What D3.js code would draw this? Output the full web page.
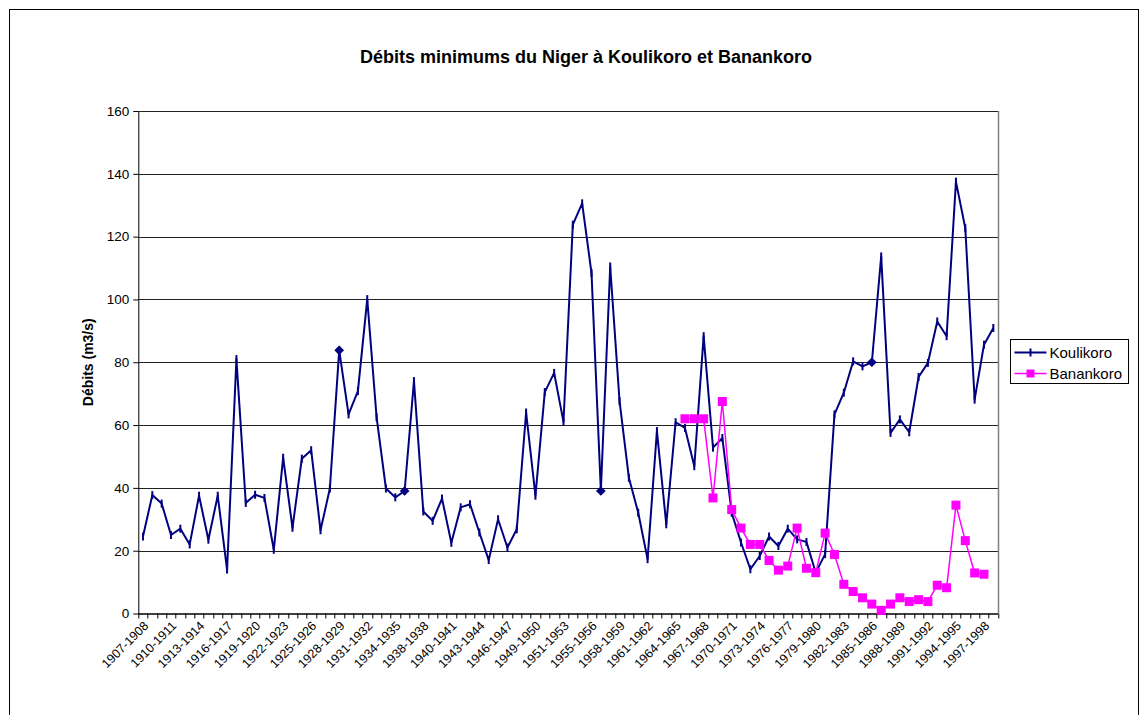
<!DOCTYPE html>
<html>
<head>
<meta charset="utf-8">
<script src="https://cdn.jsdelivr.net/npm/d3@7"></script>
<style>
    body { margin: 0; background: #fff; }
    svg { display: block; font-family: Arial, "Liberation Sans", sans-serif; }
</style>
</head>
<body>
<div id="chart"></div>
<script>
// Categories (hydrological years) as they appear in the source sheet
const years = [
    "1907-1908", "1908-1909", "1909-1910", "1910-1911", "1911-1912", "1912-1913",
    "1913-1914", "1914-1915", "1915-1916", "1916-1917", "1917-1918", "1918-1919",
    "1919-1920", "1920-1921", "1921-1922", "1922-1923", "1923-1924", "1924-1925",
    "1925-1926", "1926-1927", "1927-1928", "1928-1929", "1929-1930", "1930-1931",
    "1931-1932", "1932-1933", "1933-1934", "1934-1935", "1935-1936", "1936-1937",
    "1938-1938", "1938-1939", "1939-1940", "1940-1941", "1941-1942", "1942-1943",
    "1943-1944", "1944-1945", "1945-1946", "1946-1947", "1947-1948", "1948-1949",
    "1949-1950", "1950-1951", "1951-1952", "1951-1953", "1953-1954", "1954-1955",
    "1955-1956", "1956-1957", "1957-1958", "1958-1959", "1959-1960", "1960-1961",
    "1961-1962", "1962-1963", "1963-1964", "1964-1965", "1965-1966", "1966-1967",
    "1967-1968", "1968-1969", "1969-1970", "1970-1971", "1971-1972", "1972-1973",
    "1973-1974", "1974-1975", "1975-1976", "1976-1977", "1977-1978", "1978-1979",
    "1979-1980", "1980-1981", "1981-1982", "1982-1983", "1983-1984", "1984-1985",
    "1985-1986", "1986-1987", "1987-1988", "1988-1989", "1989-1990", "1990-1991",
    "1991-1992", "1992-1993", "1993-1994", "1994-1995", "1995-1996", "1996-1997",
    "1997-1998", "1998-1999"
];

// Koulikoro minimum discharge (m3/s), one value per year
const koulikoro = [
    24.5, 37.7, 35, 25, 27, 22, 37.5, 23.5, 37.5, 14,
    81, 35.2, 37.8, 36.8, 20.3, 49.6, 27.3, 49.3, 52, 26.5,
    39.8, 83.8, 63.4, 70.8, 100.1, 62.5, 39.8, 37, 39, 74,
    32.5, 29.5, 36.6, 22.5, 33.8, 34.8, 25.8, 17, 30, 21,
    26.8, 64, 37.5, 70.5, 76.6, 61, 123.8, 130.6, 108.4, 39,
    110.5, 67.6, 43.2, 32.1, 17.3, 58.1, 28.4, 60.9, 59.1, 46.9,
    88.3, 52.8, 55.9, 32.1, 22.6, 14.1, 18.3, 24.5, 21.5, 27,
    23.6, 22.8, 13, 18.9, 63.4, 70.3, 80.3, 78.7, 80, 113.7,
    57.5, 61.8, 57.7, 75.3, 79.8, 93, 88.3, 137.5, 122.7, 68.1,
    85.6, 90.9
];

// Points of Koulikoro drawn with a diamond marker in the original
const koulikoroDiamonds = ["1928-1929", "1935-1936", "1956-1957", "1985-1986"];

// Banankoro minimum discharge (m3/s), starts in 1965-1966
const banankoroStart = "1965-1966";
const banankoro = [
    62, 62, 62, 36.8, 67.5, 33.1, 27.2, 22, 22, 16.9,
    13.8, 15.1, 27.2, 14.4, 13, 25.6, 18.8, 9.3, 7, 5,
    3, 1, 3, 5, 3.8, 4.4, 3.8, 9, 8.2, 34.5,
    23.2, 12.9, 12.5
];

const yTicks = [0, 20, 40, 60, 80, 100, 120, 140, 160];

class NigerChart {
    constructor(_parentElement) {
        this.parentElement = _parentElement;
        this.initVis();
    }

    initVis() {
        let vis = this;

        vis.totalWidth = 1147;
        vis.totalHeight = 715;
        vis.margin = { top: 111, right: 149, bottom: 101.5, left: 138.3 };
        vis.width = vis.totalWidth - vis.margin.left - vis.margin.right;
        vis.height = vis.totalHeight - vis.margin.top - vis.margin.bottom;

        vis.root = d3.select("#" + vis.parentElement)
            .append("svg")
            .attr("width", vis.totalWidth)
            .attr("height", vis.totalHeight);

        // outer chart frame
        vis.root.append("rect")
            .attr("x", 9.5)
            .attr("y", 9.5)
            .attr("width", 1129)
            .attr("height", 730)
            .attr("fill", "#fff")
            .attr("stroke", "#000")
            .attr("stroke-width", 1);

        vis.root.append("text")
            .attr("x", 586)
            .attr("y", 63)
            .attr("text-anchor", "middle")
            .style("font-size", "18px")
            .style("font-weight", "bold")
            .text("Débits minimums du Niger à Koulikoro et Banankoro");

        vis.root.append("text")
            .attr("transform", `translate(93,${vis.margin.top + vis.height / 2}) rotate(-90)`)
            .attr("text-anchor", "middle")
            .style("font-size", "14px")
            .style("font-weight", "bold")
            .text("Débits (m3/s)");

        vis.svg = vis.root.append("g")
            .attr("transform", `translate(${vis.margin.left},${vis.margin.top})`);

        vis.x = d3.scaleBand()
            .domain(years)
            .range([0, vis.width])
            .padding(0);

        vis.y = d3.scaleLinear()
            .domain([0, 160])
            .range([vis.height, 0]);

        vis.cx = d => vis.x(d) + vis.x.bandwidth() / 2;

        // gridlines
        vis.svg.selectAll(".grid")
            .data(yTicks.filter(d => d > 0))
            .enter().append("line")
            .attr("class", "grid")
            .attr("x1", 0)
            .attr("x2", vis.width)
            .attr("y1", d => Math.round(vis.y(d)) + 0.5)
            .attr("y2", d => Math.round(vis.y(d)) + 0.5)
            .attr("stroke", "#222")
            .attr("stroke-width", 1);

        // right border of the plot area
        vis.svg.append("line")
            .attr("x1", vis.width + 0.5)
            .attr("x2", vis.width + 0.5)
            .attr("y1", 0)
            .attr("y2", vis.height)
            .attr("stroke", "#808080")
            .attr("stroke-width", 1.5);

        // y axis
        let yAxis = vis.svg.append("g")
            .call(d3.axisLeft(vis.y).tickValues(yTicks).tickSize(5).tickPadding(4).tickSizeOuter(0));
        yAxis.selectAll("text").style("font-size", "13.5px").attr("fill", "#000");
        yAxis.selectAll("line, path").attr("stroke", "#000");

        // x axis line and tick marks between categories
        vis.svg.append("line")
            .attr("x1", 0)
            .attr("x2", vis.width)
            .attr("y1", vis.height + 0.5)
            .attr("y2", vis.height + 0.5)
            .attr("stroke", "#000")
            .attr("stroke-width", 1.5);

        let tickPos = years.map(d => vis.x(d)).concat([vis.width]);
        vis.svg.selectAll(".xtick")
            .data(tickPos)
            .enter().append("line")
            .attr("class", "xtick")
            .attr("x1", d => Math.round(d) + 0.5)
            .attr("x2", d => Math.round(d) + 0.5)
            .attr("y1", vis.height)
            .attr("y2", vis.height + 5)
            .attr("stroke", "#000");

        vis.svg.selectAll(".xlabel")
            .data(years.filter((d, i) => i % 3 === 0))
            .enter().append("text")
            .attr("class", "xlabel")
            .attr("transform", d => `translate(${vis.cx(d) + 3},${vis.height + 10}) rotate(-45)`)
            .attr("text-anchor", "end")
            .attr("dy", "0.35em")
            .style("font-size", "12.5px")
            .text(d => d);

        vis.updateVis();
    }

    updateVis() {
        let vis = this;

        let kData = years.map((d, i) => ({ year: d, value: koulikoro[i] }));
        let b0 = years.indexOf(banankoroStart);
        let bData = banankoro.map((v, i) => ({ year: years[b0 + i], value: v }));

        let line = d3.line()
            .x(d => vis.cx(d.year))
            .y(d => vis.y(d.value));

        // Koulikoro
        vis.svg.append("path")
            .datum(kData)
            .attr("fill", "none")
            .attr("stroke", "#000080")
            .attr("stroke-width", 2)
            .attr("stroke-linejoin", "round")
            .attr("d", line);

        vis.svg.selectAll(".kmark")
            .data(kData)
            .enter().append("line")
            .attr("class", "kmark")
            .attr("x1", d => vis.cx(d.year))
            .attr("x2", d => vis.cx(d.year))
            .attr("y1", d => vis.y(d.value) - 4)
            .attr("y2", d => vis.y(d.value) + 4)
            .attr("stroke", "#000080")
            .attr("stroke-width", 2);

        vis.svg.selectAll(".kdiamond")
            .data(kData.filter(d => koulikoroDiamonds.includes(d.year)))
            .enter().append("path")
            .attr("class", "kdiamond")
            .attr("d", d3.symbol(d3.symbolDiamond2, 60))
            .attr("transform", d => `translate(${vis.cx(d.year)},${vis.y(d.value)})`)
            .attr("fill", "#000080");

        // Banankoro
        vis.svg.append("path")
            .datum(bData)
            .attr("fill", "none")
            .attr("stroke", "#FF00FF")
            .attr("stroke-width", 1.5)
            .attr("d", line);

        vis.svg.selectAll(".bmark")
            .data(bData)
            .enter().append("rect")
            .attr("class", "bmark")
            .attr("x", d => vis.cx(d.year) - 4.5)
            .attr("y", d => vis.y(d.value) - 4.5)
            .attr("width", 9)
            .attr("height", 9)
            .attr("fill", "#FF00FF");

        // legend
        let legend = vis.root.append("g").attr("transform", "translate(1010.5,339.5)");
        legend.append("rect")
            .attr("width", 118)
            .attr("height", 44)
            .attr("fill", "#fff")
            .attr("stroke", "#000");

        let items = [
            { name: "Koulikoro", color: "#000080", y: 13 },
            { name: "Banankoro", color: "#FF00FF", y: 34 }
        ];
        items.forEach(it => {
            legend.append("line")
                .attr("x1", 4).attr("x2", 36)
                .attr("y1", it.y).attr("y2", it.y)
                .attr("stroke", it.color)
                .attr("stroke-width", it.name === "Koulikoro" ? 2 : 1.5);
            if (it.name === "Koulikoro") {
                legend.append("line")
                    .attr("x1", 20).attr("x2", 20)
                    .attr("y1", it.y - 4).attr("y2", it.y + 4)
                    .attr("stroke", it.color)
                    .attr("stroke-width", 2);
            } else {
                legend.append("rect")
                    .attr("x", 16).attr("y", it.y - 4)
                    .attr("width", 8).attr("height", 8)
                    .attr("fill", it.color);
            }
            legend.append("text")
                .attr("x", 39)
                .attr("y", it.y)
                .attr("dy", "0.35em")
                .style("font-size", "15px")
                .text(it.name);
        });
    }
}

new NigerChart("chart");
</script>
</body>
</html>
